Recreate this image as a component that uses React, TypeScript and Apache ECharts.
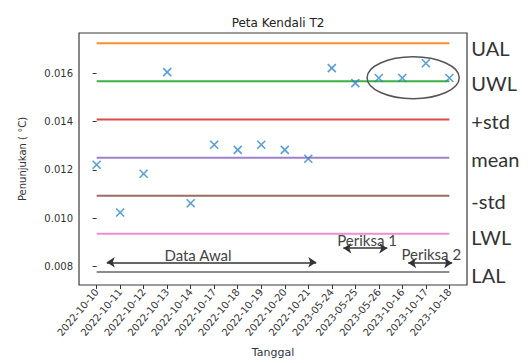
import React, { useEffect, useRef } from "react";
import * as echarts from "echarts";

const categories = [
  "2022-10-10", "2022-10-11", "2022-10-12", "2022-10-13", "2022-10-14",
  "2022-10-17", "2022-10-18", "2022-10-19", "2022-10-20", "2022-10-21",
  "2023-05-24", "2023-05-25", "2023-05-26", "2023-10-16", "2023-10-17",
  "2023-10-18",
];
const readings = [
  0.01221, 0.01024, 0.01184, 0.01604, 0.01062, 0.01304, 0.01283, 0.01304,
  0.01283, 0.01246, 0.01621, 0.01559, 0.0158, 0.0158, 0.01641, 0.0158,
];
const limitNames = ["UAL", "UWL", "+std", "mean", "-std", "LWL", "LAL"];
const limitValues = [0.01724, 0.01566, 0.01408, 0.0125, 0.01093, 0.00936, 0.00778];
const limitColors = ["#ff8c2a", "#3cb043", "#dd4a4b", "#a07fcb", "#9a6b60", "#ea8fd0", "#8c8c8c"];
const limitLabelDy = [5, 2, 1, 1, 5, 3, 3];
const yTicks = [0.008, 0.01, 0.012, 0.014, 0.016];

// annotations in data coordinates
const arrowSpans = [
  { from: 0.43, to: 9.34, y: 0.00818 },
  { from: 10.49, to: 12.36, y: 0.00876 },
  { from: 13.25, to: 15.12, y: 0.00815 },
];
const annotationTexts = [
  { text: "Data Awal", x: 4.31, y: 0.00848 },
  { text: "Periksa 1", x: 11.5, y: 0.00911 },
  { text: "Periksa 2", x: 14.23, y: 0.00852 },
];
const highlight = { x: 13.46, y: 0.01581, rx: 1.96, ry: 0.000865 };

export default function App() {
  const ref = useRef<HTMLDivElement>(null);
  useEffect(() => {
    if (!ref.current) return;
    const chart = echarts.init(ref.current, null, { renderer: "svg" });
    const idx = categories.map((_, i) => i);
    const lastIdx = categories.length - 1;
    const overlayFont = "Lato";

    const limitSeries = limitNames.map((name, k) => ({
      name,
      type: "line",
      data: [
        [0, limitValues[k]],
        [lastIdx, limitValues[k]],
      ],
      symbol: "none",
      lineStyle: { color: limitColors[k], width: 2 },
      endLabel: {
        show: true,
        formatter: "{a}",
        distance: 22,
        offset: [0, limitLabelDy[k]],
        fontFamily: overlayFont,
        fontSize: 20,
        color: "#333",
      },
      z: 2,
    }));

    chart.setOption({
      animation: false,
      title: {
        text: "Peta Kendali T2",
        left: 273,
        top: 12,
        textAlign: "center",
        textStyle: { fontFamily: "DejaVu Sans", fontSize: 12, fontWeight: "normal", color: "#222" },
      },
      grid: {
        left: 79,
        top: 33,
        width: 388,
        height: 253,
        show: true,
        borderColor: "#3a3a3a",
        borderWidth: 1.2,
        backgroundColor: "transparent",
      },
      xAxis: {
        type: "value",
        min: -0.75,
        max: 15.75,
        name: "Tanggal",
        nameLocation: "middle",
        nameGap: 62,
        nameTextStyle: { fontFamily: "DejaVu Sans", fontSize: 11, color: "#2b3445" },
        splitLine: { show: false },
        axisLine: { show: false },
        axisTick: { show: true, customValues: idx, length: 4, lineStyle: { color: "#333" } },
        axisLabel: {
          customValues: idx,
          formatter: (v: number) => categories[Math.round(v)] ?? "",
          rotate: 50,
          fontFamily: "DejaVu Sans",
          fontSize: 10,
          color: "#333",
          margin: 5,
        },
      },
      yAxis: {
        type: "value",
        min: 0.00724,
        max: 0.01766,
        name: "Penunjukan ( °C)",
        nameLocation: "middle",
        nameGap: 52,
        nameTextStyle: { fontFamily: "DejaVu Sans", fontSize: 10, color: "#333" },
        splitLine: { show: false },
        axisLine: { show: false },
        axisTick: { show: true, customValues: yTicks, length: 4, lineStyle: { color: "#333" } },
        axisLabel: {
          customValues: yTicks,
          formatter: (v: number) => v.toFixed(3),
          fontFamily: "DejaVu Sans",
          fontSize: 10,
          color: "#333",
          margin: 6,
        },
      },
      series: [
        ...limitSeries,
        {
          name: "readings",
          type: "scatter",
          data: readings.map((v, i) => [i, v]),
          symbol: "path://M0,0L10,10M10,0L0,10",
          symbolSize: 8,
          itemStyle: { color: "transparent", borderColor: "#2f86c8", borderWidth: 1.6 },
          z: 5,
          markLine: {
            silent: true,
            symbol: ["arrow", "arrow"],
            symbolSize: 8,
            label: { show: false },
            lineStyle: { color: "#333", width: 1.5, type: "solid" },
            data: arrowSpans.map((a) => [
              { coord: [a.from, a.y] },
              { coord: [a.to, a.y] },
            ]),
          },
          markPoint: {
            silent: true,
            symbol: "circle",
            symbolSize: 1,
            itemStyle: { color: "transparent" },
            label: {
              show: true,
              position: "inside",
              fontFamily: overlayFont,
              fontSize: 15,
              color: "#444",
              formatter: (p: any) => p.name,
            },
            data: annotationTexts.map((t) => ({ name: t.text, coord: [t.x, t.y] })),
          },
        },
        {
          name: "highlight",
          type: "custom",
          clip: false,
          data: [[highlight.x, highlight.y]],
          renderItem: (params: any, api: any) => {
            const c = api.coord([highlight.x, highlight.y]);
            const e = api.coord([highlight.x + highlight.rx, highlight.y + highlight.ry]);
            return {
              type: "ellipse",
              shape: { cx: c[0], cy: c[1], rx: Math.abs(e[0] - c[0]), ry: Math.abs(c[1] - e[1]) },
              style: { fill: "none", stroke: "#555", lineWidth: 1.5 },
            };
          },
          z: 6,
        },
      ],
    });
    return () => chart.dispose();
  }, []);
  return (
    <div
      ref={ref}
      style={{ position: "fixed", left: 0, top: 0, width: 531, height: 363, background: "#fff" }}
    />
  );
}
